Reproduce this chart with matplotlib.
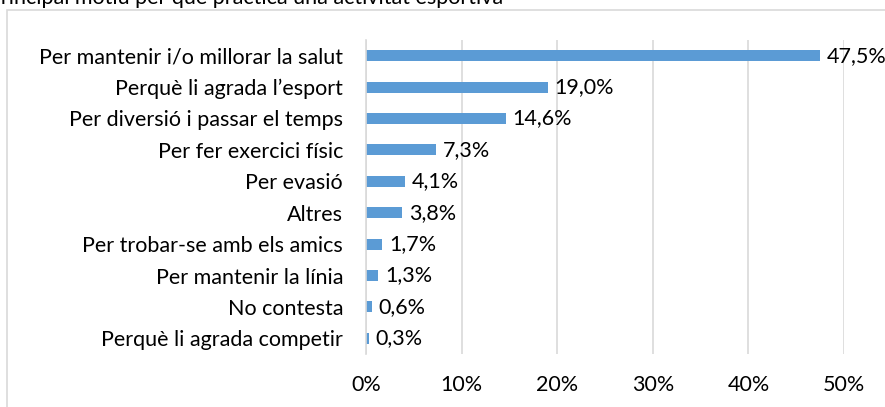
import matplotlib
matplotlib.use('Agg')
import matplotlib.pyplot as plt
from matplotlib.patches import Rectangle

categories = [
    'Per mantenir i/o millorar la salut',
    'Perquè li agrada l\u2019esport',
    'Per diversió i passar el temps',
    'Per fer exercici físic',
    'Per evasió',
    'Altres',
    'Per trobar-se amb els amics',
    'Per mantenir la línia',
    'No contesta',
    'Perquè li agrada competir',
]
values = [47.5, 19.0, 14.6, 7.3, 4.1, 3.8, 1.7, 1.3, 0.6, 0.3]
ticks = [0, 10, 20, 30, 40, 50]

plt.rcParams['font.family'] = ['Lato', 'DejaVu Sans']
FS = 15.5

fig = plt.figure(figsize=(8.85, 4.07), dpi=100)
ax = fig.add_axes([366 / 885, 1 - 354 / 407, (844 - 366) / 885, (354 - 40) / 407])

# chart border (cut off on the right and bottom)
fig.patches.append(Rectangle((7 / 885, -0.1), 1.2, 1 - 10 / 407 + 0.1,
                             transform=fig.transFigure, fill=False,
                             edgecolor='#d9d9d9', linewidth=1.2))

# title, mostly cut off at the top edge
fig.text(-12 / 885, 1 - 4 / 407, 'Principal motiu per què practica una activitat esportiva',
         fontsize=FS, va='baseline', ha='left', color='#000000')

ypos = list(range(len(categories)))
ax.barh(ypos, values, height=0.35, color='#5b9bd5', zorder=3)
for y, v in zip(ypos, values):
    ax.annotate(('%.1f%%' % v).replace('.', ','), (v, y), xytext=(5, 0),
                textcoords='offset points', va='center', ha='left',
                fontsize=FS, color='#000000', zorder=4)

ax.set_yticks(ypos)
ax.set_yticklabels(categories, fontsize=FS)
ax.set_ylim(len(categories) - 0.5, -0.5)
ax.set_xlim(0, 50)
ax.set_xticks(ticks)
ax.set_xticklabels(['%d%%' % t for t in ticks], fontsize=FS)
ax.tick_params(length=0, pad=15, axis='x')
ax.tick_params(length=0, pad=16.5, axis='y')
ax.grid(axis='x', color='#d9d9d9', linewidth=1.2, zorder=0)
for s in ['top', 'right', 'bottom']:
    ax.spines[s].set_visible(False)
ax.spines['left'].set_color('#d9d9d9')
ax.spines['left'].set_linewidth(1.2)
ax.spines['left'].set_zorder(5)

fig.savefig('out.png', dpi=100)
